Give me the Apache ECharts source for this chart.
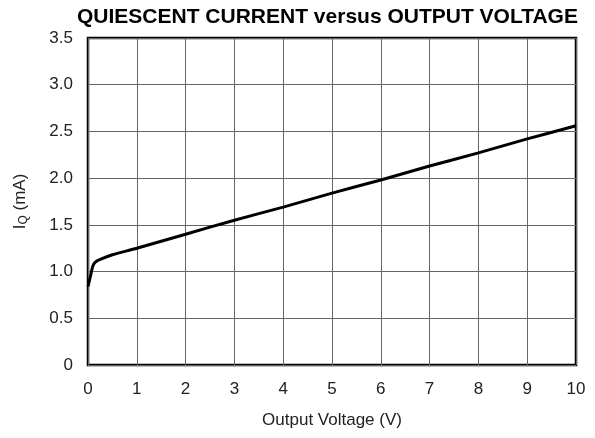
<!DOCTYPE html>
<html>
<head>
<meta charset="utf-8">
<script src="https://cdn.jsdelivr.net/npm/echarts@6/dist/echarts.min.js"></script>
<style>
  html, body { margin: 0; padding: 0; background: #fff; }
  #chart { width: 595px; height: 438px; }
</style>
</head>
<body>
<div id="chart"></div>
<script>
// output voltage (V) and quiescent current (mA)
const voltage = [0, 0.05, 0.1, 0.15, 0.25, 0.5, 1, 2, 3, 4, 5, 6, 7, 8, 9, 10];
const current = [0.84, 0.95, 1.06, 1.10, 1.13, 1.18, 1.25, 1.40, 1.55, 1.69, 1.84, 1.98, 2.13, 2.27, 2.42, 2.56];

const chart = echarts.init(document.getElementById('chart'));
const font = 'Liberation Sans, Arial, Helvetica, sans-serif';

chart.setOption({
  animation: false,
  title: {
    text: 'QUIESCENT CURRENT versus OUTPUT VOLTAGE',
    left: 72,
    top: 2,
    textStyle: { fontFamily: font, fontSize: 21, fontWeight: 'bold', color: '#000' }
  },
  grid: {
    left: 88, right: 19, top: 38, bottom: 73,
    show: true, borderColor: '#000', borderWidth: 2.5
  },
  xAxis: {
    type: 'value',
    min: 0, max: 10, interval: 1,
    name: 'Output Voltage (V)',
    nameLocation: 'middle',
    nameGap: 47,
    nameTextStyle: { fontFamily: font, fontSize: 17, color: '#222' },
    axisLine: { show: false },
    axisTick: { show: false },
    axisLabel: { fontFamily: font, fontSize: 17, color: '#222', margin: 16 },
    splitLine: { show: true, lineStyle: { color: '#666', width: 1 } }
  },
  yAxis: {
    type: 'value',
    min: 0, max: 3.5, interval: 0.5,
    name: '{a|I}{b|Q}{a| (mA)}',
    nameLocation: 'middle',
    nameGap: 58,
    nameRotate: 90,
    nameTextStyle: {
      rich: {
        a: { fontFamily: font, fontSize: 17, color: '#222' },
        b: { fontFamily: font, fontSize: 12, color: '#222', padding: [8, 0, 0, 0] }
      }
    },
    axisLine: { show: false },
    axisTick: { show: false },
    axisLabel: {
      fontFamily: font, fontSize: 17, color: '#222', margin: 15,
      formatter: v => (v === 0 ? '0' : v.toFixed(1))
    },
    splitLine: { show: true, lineStyle: { color: '#666', width: 1 } }
  },
  series: [{
    type: 'line',
    data: voltage.map((v, i) => [v, current[i]]),
    smooth: 0.3,
    showSymbol: false,
    lineStyle: { color: '#000', width: 3 }
  }]
});
</script>
</body>
</html>
